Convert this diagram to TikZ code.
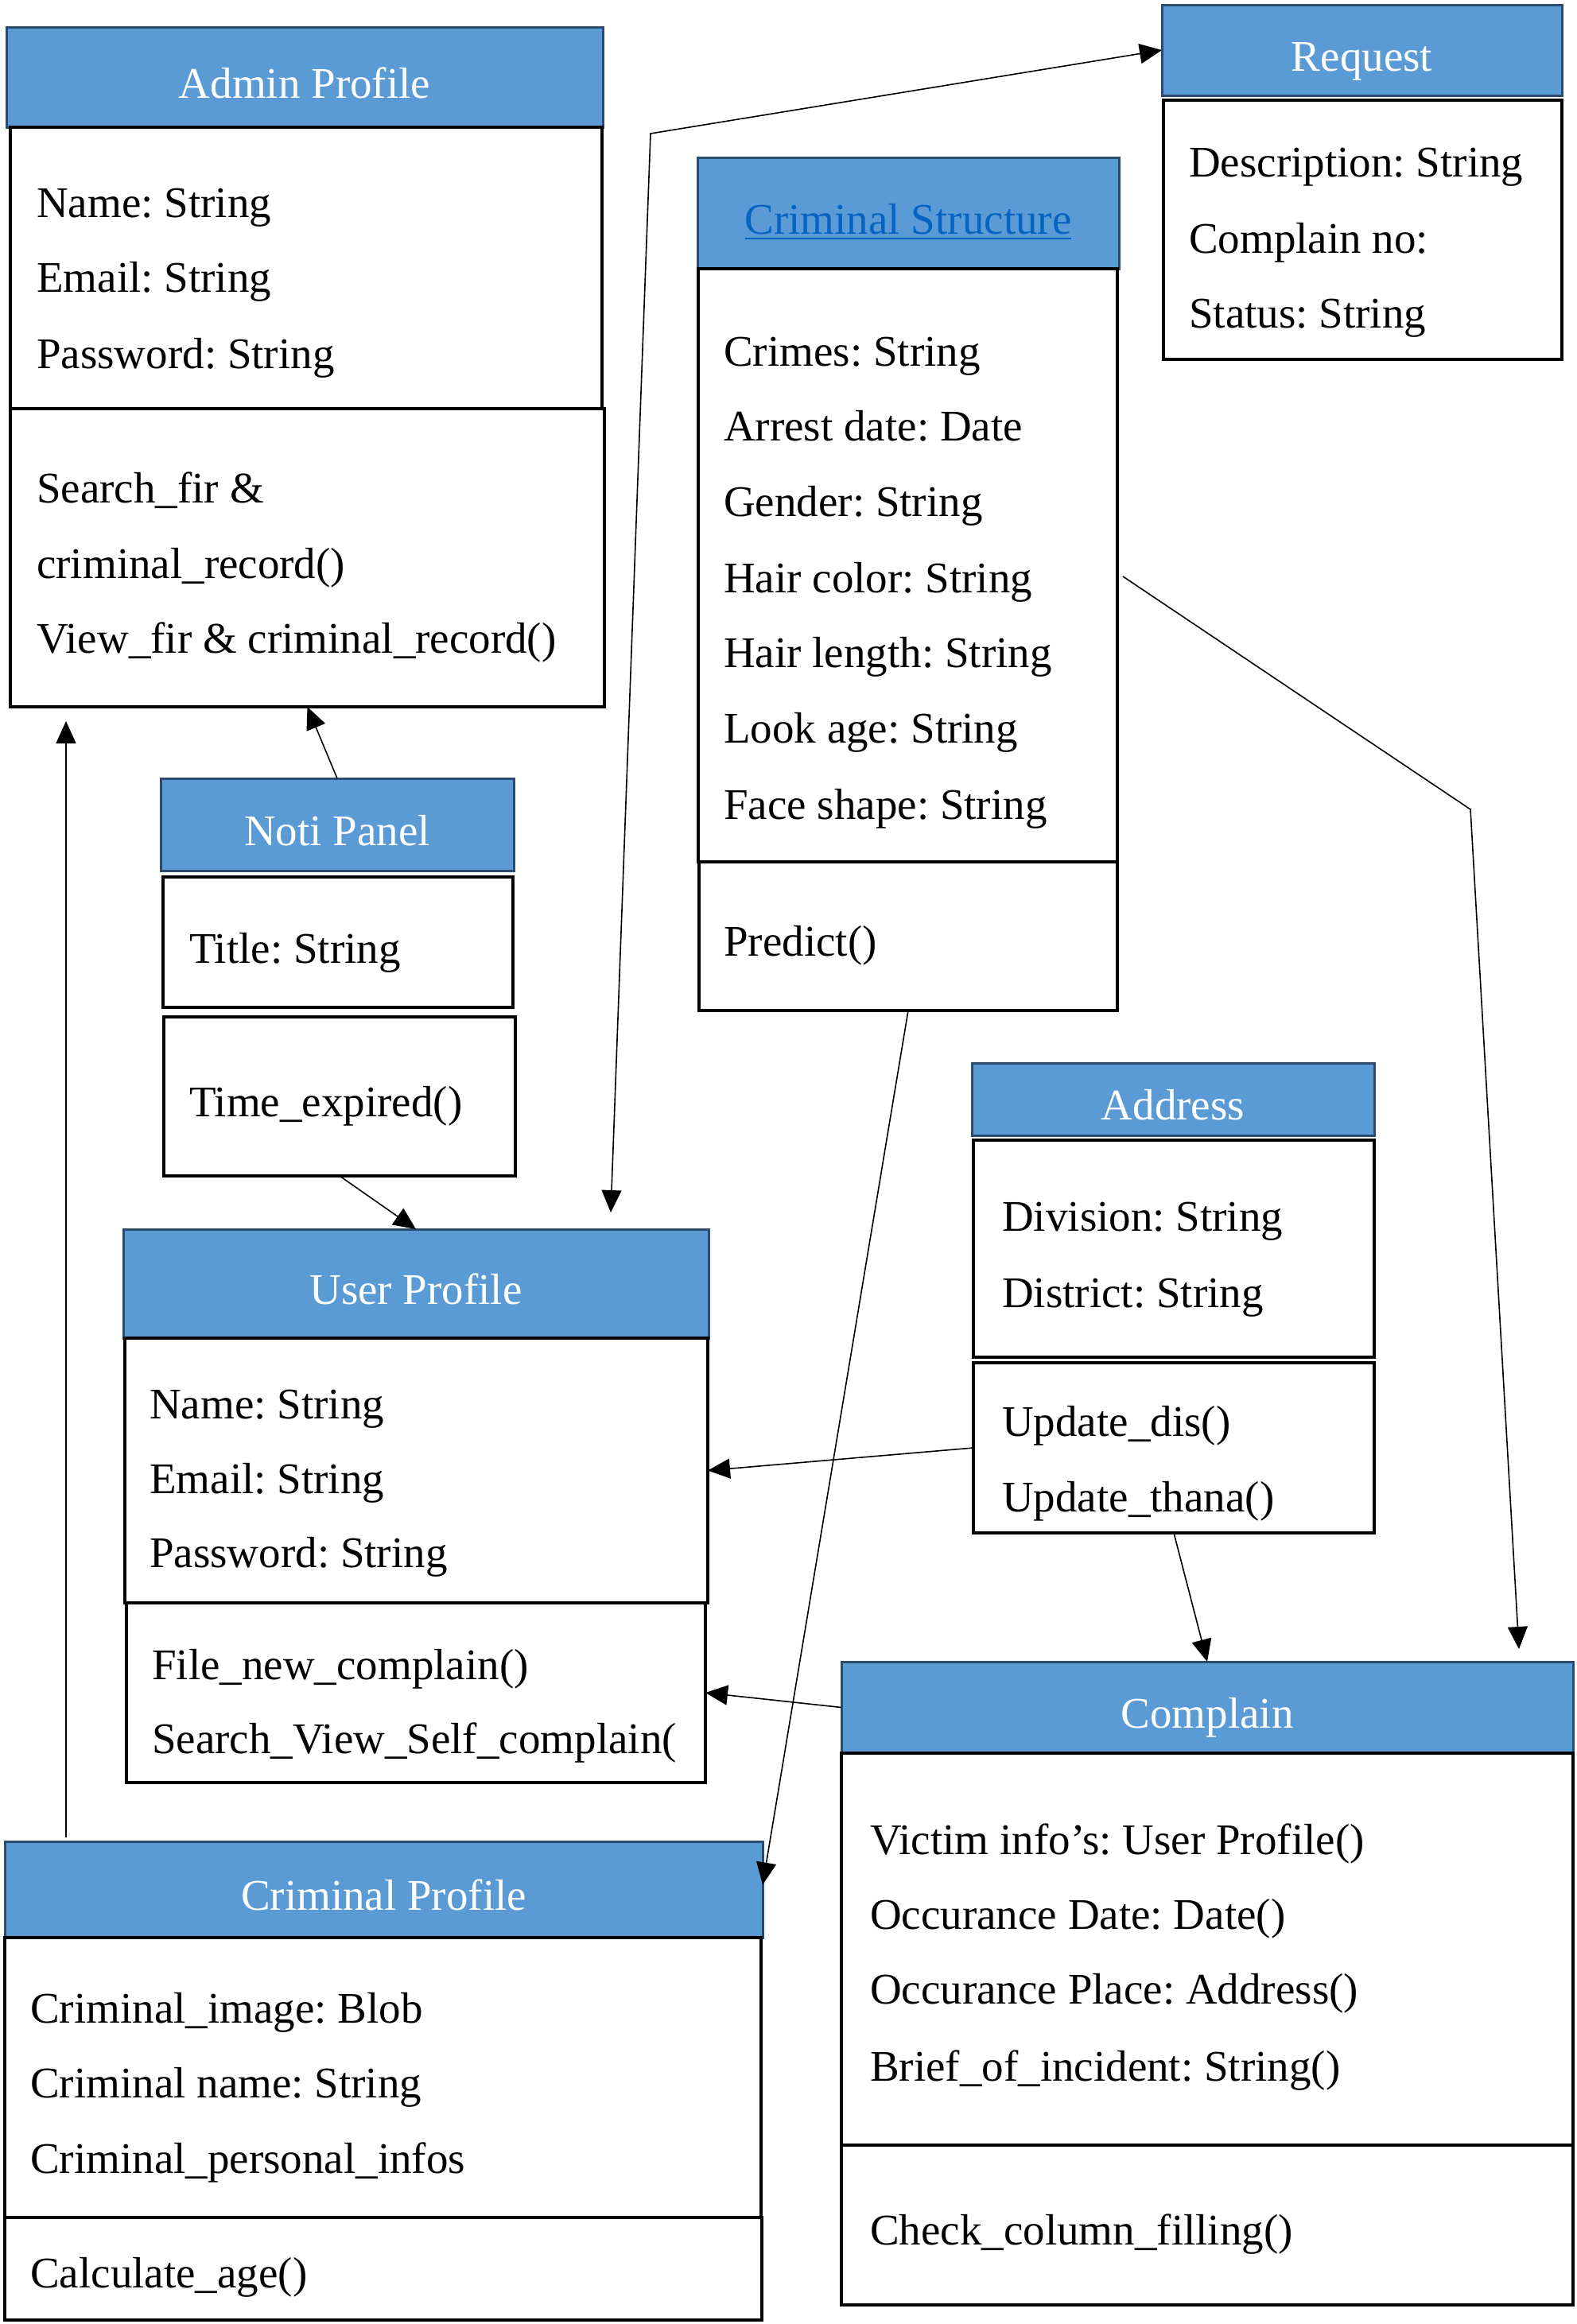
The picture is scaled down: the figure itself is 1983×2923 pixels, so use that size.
\documentclass[tikz,border=0pt]{standalone}
\usepackage{fontspec}
\setmainfont{Liberation Serif}
\usetikzlibrary{arrows.meta,calc}
\definecolor{hdrfill}{HTML}{5B9BD5}
\definecolor{hdrline}{HTML}{2A4A6E}
\definecolor{linkblue}{HTML}{0563C1}
\newsavebox\ulbox
\newcommand\myul[1]{\sbox\ulbox{#1}\rlap{\rule[-7pt]{\wd\ulbox}{2.5pt}}\usebox\ulbox}
\frenchspacing
\begin{document}
\begin{tikzpicture}[x=1pt,y=-1pt,
  hdr/.style={draw=hdrline, fill=hdrfill, line width=3pt, anchor=north west, inner sep=0pt, outer sep=0pt, text=white, font=\fontsize{55}{66}\selectfont\frenchspacing, text height=52pt, text depth=0pt},
  cbox/.style={draw=black, line width=4pt, anchor=north west, inner sep=0pt, outer sep=0pt},
  txt/.style={anchor=base west, inner sep=0pt, font=\fontsize{55}{66}\selectfont\frenchspacing},
  con/.style={line width=1.6pt},
  arr/.style={con, -{Triangle[length=28pt,width=25pt]}}]
\useasboundingbox (0,0) rectangle (1983,2923);

% Admin Profile
\node[hdr, minimum width=750pt, minimum height=126pt] (adminH) at (8,34) {Admin Profile};
\node[cbox, minimum width=744pt, minimum height=354pt] (adminA) at (13,160) {};
\node[cbox, minimum width=747pt, minimum height=375pt] (adminM) at (13,514) {};
\node[txt] (ad1) at (46,273) {Name: String};
\node[txt] (ad2) at (46,367) {Email: String};
\node[txt] (ad3) at (46,463) {Password: String};
\node[txt] (ad4) at (46,632) {Search\_fir \&};
\node[txt] (ad5) at (46,727) {criminal\_record()};
\node[txt] (ad6) at (46,821) {View\_fir \& criminal\_record()};

% Request
\node[hdr, minimum width=503pt, minimum height=114pt] (reqH) at (1461,6) {Request};
\node[cbox, minimum width=501pt, minimum height=326pt] (reqA) at (1463,126) {};
\node[txt] (rq1) at (1495,222) {Description: String};
\node[txt] (rq2) at (1495,318) {Complain no:};
\node[txt] (rq3) at (1495,412) {Status: String};

% Criminal Structure
\node[hdr, minimum width=530pt, minimum height=140pt] (csH) at (877,198) {\color{linkblue}\myul{Criminal Structure}};
\node[cbox, minimum width=527pt, minimum height=746pt] (csA) at (878,338) {};
\node[cbox, minimum width=526pt, minimum height=187pt] (csM) at (879,1084) {};
\node[txt] (cs1) at (910,460) {Crimes: String};
\node[txt] (cs2) at (910,554) {Arrest date: Date};
\node[txt] (cs3) at (910,649) {Gender: String};
\node[txt] (cs4) at (910,745) {Hair color: String};
\node[txt] (cs5) at (910,839) {Hair length: String};
\node[txt] (cs6) at (910,934) {Look age: String};
\node[txt] (cs7) at (910,1030) {Face shape: String};
\node[txt] (cs8) at (910,1202) {Predict()};

% Noti Panel
\node[hdr, minimum width=444pt, minimum height=116pt] (notiH) at (202,979) {Noti Panel};
\node[cbox, minimum width=440pt, minimum height=164pt] (notiA) at (205,1103) {};
\node[cbox, minimum width=442pt, minimum height=200pt] (notiM) at (206,1279) {};
\node[txt] (np1) at (238,1211) {Title: String};
\node[txt] (np2) at (238,1404) {Time\_expired()};

% User Profile
\node[hdr, minimum width=736pt, minimum height=137pt] (userH) at (155,1546) {User Profile};
\node[cbox, minimum width=733pt, minimum height=333pt] (userA) at (157,1683) {};
\node[cbox, minimum width=728pt, minimum height=226pt] (userM) at (159,2016) {};
\node[txt] (up1) at (188,1784) {Name: String};
\node[txt] (up2) at (188,1878) {Email: String};
\node[txt] (up3) at (188,1971) {Password: String};
\node[txt] (up4) at (191,2112) {File\_new\_complain()};
\node[txt] (up5) at (191,2205) {Search\_View\_Self\_complain(};

% Address
\node[hdr, minimum width=506pt, minimum height=91pt] (addrH) at (1222,1337) {Address};
\node[cbox, minimum width=504pt, minimum height=273pt] (addrA) at (1224,1434) {};
\node[cbox, minimum width=504pt, minimum height=214pt] (addrM) at (1224,1714) {};
\node[txt] (as1) at (1260,1548) {Division: String};
\node[txt] (as2) at (1260,1644) {District: String};
\node[txt] (as3) at (1260,1806) {Update\_dis()};
\node[txt] (as4) at (1260,1901) {Update\_thana()};

% Complain
\node[hdr, minimum width=920pt, minimum height=115pt] (compH) at (1058,2090) {Complain};
\node[cbox, minimum width=920pt, minimum height=493pt] (compA) at (1058,2205) {};
\node[cbox, minimum width=920pt, minimum height=201pt] (compM) at (1058,2698) {};
\node[txt] (cm1) at (1094,2332) {Victim info’s: User Profile()};
\node[txt] (cm2) at (1094,2426) {Occurance Date: Date()};
\node[txt] (cm3) at (1094,2520) {Occurance Place: Address()};
\node[txt] (cm4) at (1094,2617) {Brief\_of\_incident: String()};
\node[txt] (cm5) at (1094,2823) {Check\_column\_filling()};

% Criminal Profile
\node[hdr, minimum width=953pt, minimum height=121pt] (cpH) at (6,2316) {Criminal Profile};
\node[cbox, minimum width=951pt, minimum height=352pt] (cpA) at (6,2437) {};
\node[cbox, minimum width=952pt, minimum height=129pt] (cpM) at (6,2789) {};
\node[txt] (cp1) at (38,2544) {Criminal\_image: Blob};
\node[txt] (cp2) at (38,2638) {Criminal name: String};
\node[txt] (cp3) at (38,2733) {Criminal\_personal\_infos};
\node[txt] (cp4) at (38,2877) {Calculate\_age()};

% Connectors
\coordinate (rbend) at (818,168);
\draw[con, {Triangle[length=28pt,width=25pt]}-{Triangle[length=28pt,width=25pt]}] ([xshift=245pt,yshift=21pt]userH.north) -- (rbend) -- (reqH.west);
\draw[arr] (notiH.north) -- (adminM.south);
\draw[arr] ([xshift=77pt,yshift=5pt]cpH.north west) -- ([xshift=70pt,yshift=-18pt]adminM.south west);
\draw[arr] (notiM.south) -- (userH.north);
\draw[arr] (addrM.west) -- (userA.east);
\draw[arr] (compH.west) -- (userM.east);
\draw[arr] (addrM.south) -- (compH.north);
\coordinate (cbend) at (1849,1018);
\draw[arr] ([xshift=7pt,yshift=-14pt]csA.east) -- (cbend) -- ([xshift=-68pt,yshift=16pt]compH.north east);
\draw[arr] (csM.south) -- ([yshift=6pt]cpH.east);
\end{tikzpicture}
\end{document}
